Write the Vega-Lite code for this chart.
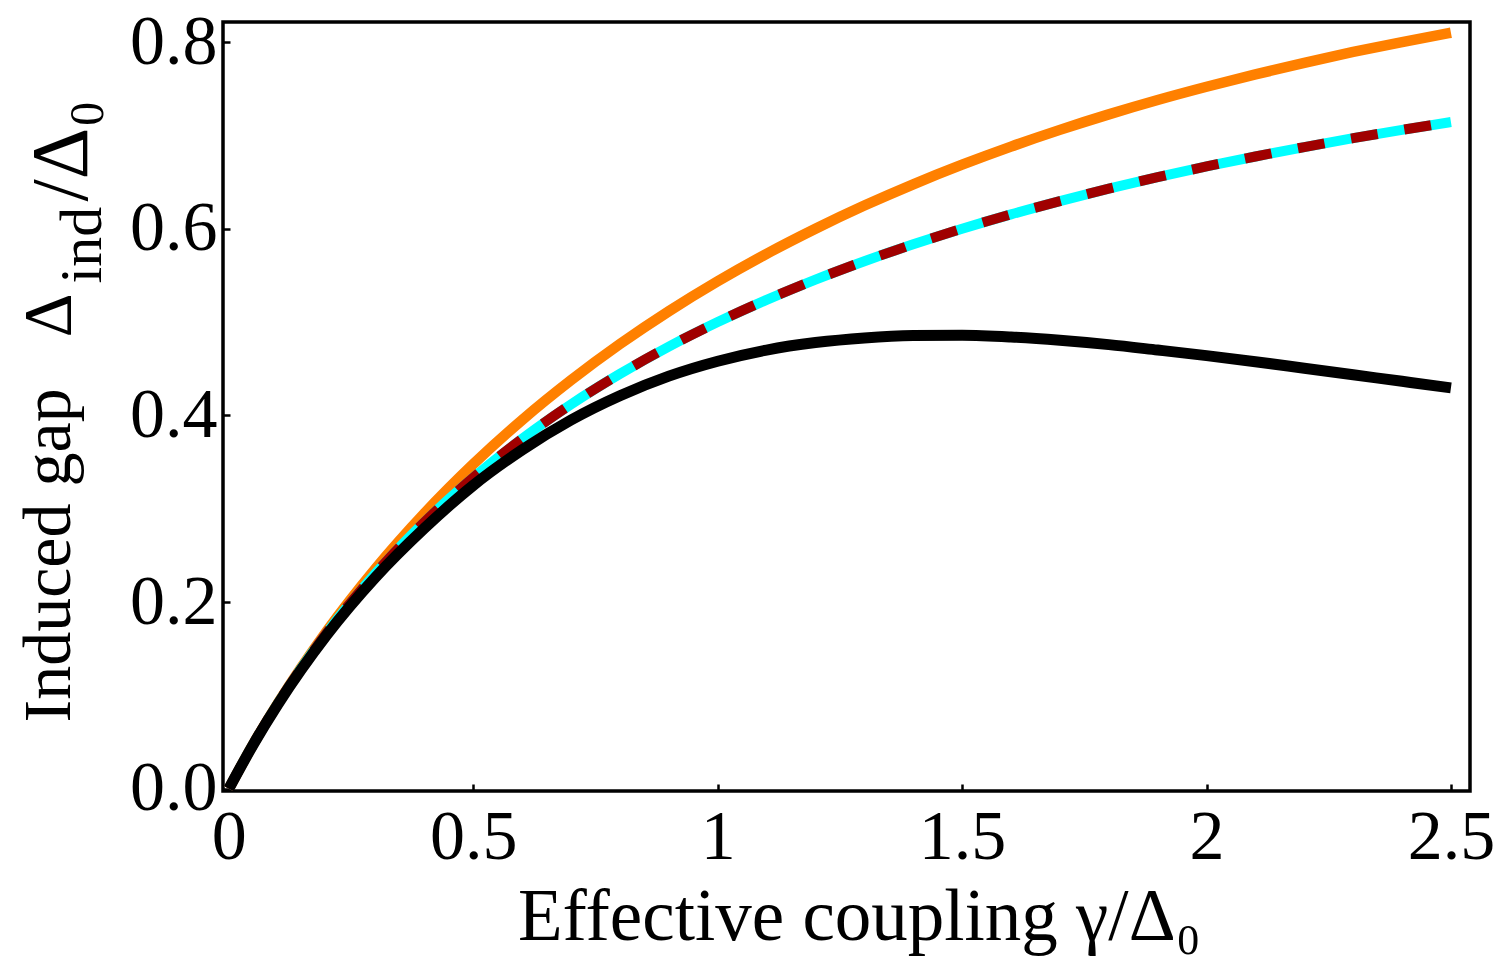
{
  "$schema": "https://vega.github.io/schema/vega-lite/v6.json",
  "width": 1247,
  "height": 769,
  "autosize": "none",
  "padding": {"left": 223, "top": 22, "right": 30, "bottom": 169},
  "background": "white",
  "config": {
    "view": {"stroke": "black", "strokeWidth": 3.5},
    "font": "Liberation Serif",
    "axis": {
      "grid": false,
      "domain": false,
      "labelFont": "Liberation Serif",
      "labelFontSize": 70,
      "labelColor": "black",
      "tickColor": "black",
      "tickWidth": 2.5,
      "tickSize": -7,
      "titleFont": "Liberation Serif, DejaVu Serif, serif",
      "titleFontWeight": "normal",
      "titleColor": "black",
      "titleFontSize": 70
    }
  },
  "datasets": {
    "curves": [
      {"gamma": 0.0, "gap": 0.0, "curve": "self-consistent"},
      {"gamma": 0.05, "gap": 0.0477, "curve": "self-consistent"},
      {"gamma": 0.1, "gap": 0.0913, "curve": "self-consistent"},
      {"gamma": 0.2, "gap": 0.1687, "curve": "self-consistent"},
      {"gamma": 0.3, "gap": 0.2359, "curve": "self-consistent"},
      {"gamma": 0.4, "gap": 0.2951, "curve": "self-consistent"},
      {"gamma": 0.5, "gap": 0.3478, "curve": "self-consistent"},
      {"gamma": 0.6, "gap": 0.3951, "curve": "self-consistent"},
      {"gamma": 0.7, "gap": 0.4377, "curve": "self-consistent"},
      {"gamma": 0.8, "gap": 0.4764, "curve": "self-consistent"},
      {"gamma": 0.9, "gap": 0.5116, "curve": "self-consistent"},
      {"gamma": 1.0, "gap": 0.5437, "curve": "self-consistent"},
      {"gamma": 1.1, "gap": 0.5731, "curve": "self-consistent"},
      {"gamma": 1.2, "gap": 0.6, "curve": "self-consistent"},
      {"gamma": 1.3, "gap": 0.6248, "curve": "self-consistent"},
      {"gamma": 1.4, "gap": 0.6476, "curve": "self-consistent"},
      {"gamma": 1.5, "gap": 0.6686, "curve": "self-consistent"},
      {"gamma": 1.6, "gap": 0.688, "curve": "self-consistent"},
      {"gamma": 1.7, "gap": 0.7059, "curve": "self-consistent"},
      {"gamma": 1.8, "gap": 0.7225, "curve": "self-consistent"},
      {"gamma": 1.9, "gap": 0.7379, "curve": "self-consistent"},
      {"gamma": 2.0, "gap": 0.7521, "curve": "self-consistent"},
      {"gamma": 2.1, "gap": 0.7653, "curve": "self-consistent"},
      {"gamma": 2.2, "gap": 0.7778, "curve": "self-consistent"},
      {"gamma": 2.3, "gap": 0.7894, "curve": "self-consistent"},
      {"gamma": 2.4, "gap": 0.8, "curve": "self-consistent"},
      {"gamma": 2.5, "gap": 0.81, "curve": "self-consistent"},

      {"gamma": 0.0, "gap": 0.0, "curve": "weak-coupling"},
      {"gamma": 0.05, "gap": 0.0476, "curve": "weak-coupling"},
      {"gamma": 0.1, "gap": 0.0909, "curve": "weak-coupling"},
      {"gamma": 0.2, "gap": 0.1667, "curve": "weak-coupling"},
      {"gamma": 0.3, "gap": 0.2308, "curve": "weak-coupling"},
      {"gamma": 0.4, "gap": 0.2857, "curve": "weak-coupling"},
      {"gamma": 0.5, "gap": 0.3333, "curve": "weak-coupling"},
      {"gamma": 0.6, "gap": 0.375, "curve": "weak-coupling"},
      {"gamma": 0.7, "gap": 0.4118, "curve": "weak-coupling"},
      {"gamma": 0.8, "gap": 0.4444, "curve": "weak-coupling"},
      {"gamma": 0.9, "gap": 0.4737, "curve": "weak-coupling"},
      {"gamma": 1.0, "gap": 0.5, "curve": "weak-coupling"},
      {"gamma": 1.1, "gap": 0.5238, "curve": "weak-coupling"},
      {"gamma": 1.2, "gap": 0.5455, "curve": "weak-coupling"},
      {"gamma": 1.3, "gap": 0.5652, "curve": "weak-coupling"},
      {"gamma": 1.4, "gap": 0.5833, "curve": "weak-coupling"},
      {"gamma": 1.5, "gap": 0.6, "curve": "weak-coupling"},
      {"gamma": 1.6, "gap": 0.6154, "curve": "weak-coupling"},
      {"gamma": 1.7, "gap": 0.6296, "curve": "weak-coupling"},
      {"gamma": 1.8, "gap": 0.6429, "curve": "weak-coupling"},
      {"gamma": 1.9, "gap": 0.6552, "curve": "weak-coupling"},
      {"gamma": 2.0, "gap": 0.6667, "curve": "weak-coupling"},
      {"gamma": 2.1, "gap": 0.6774, "curve": "weak-coupling"},
      {"gamma": 2.2, "gap": 0.6875, "curve": "weak-coupling"},
      {"gamma": 2.3, "gap": 0.697, "curve": "weak-coupling"},
      {"gamma": 2.4, "gap": 0.7059, "curve": "weak-coupling"},
      {"gamma": 2.5, "gap": 0.7143, "curve": "weak-coupling"},

      {"gamma": 0.0, "gap": 0.0, "curve": "renormalized"},
      {"gamma": 0.05, "gap": 0.0474, "curve": "renormalized"},
      {"gamma": 0.1, "gap": 0.0902, "curve": "renormalized"},
      {"gamma": 0.2, "gap": 0.1645, "curve": "renormalized"},
      {"gamma": 0.3, "gap": 0.2265, "curve": "renormalized"},
      {"gamma": 0.4, "gap": 0.279, "curve": "renormalized"},
      {"gamma": 0.5, "gap": 0.325, "curve": "renormalized"},
      {"gamma": 0.6, "gap": 0.363, "curve": "renormalized"},
      {"gamma": 0.7, "gap": 0.395, "curve": "renormalized"},
      {"gamma": 0.8, "gap": 0.421, "curve": "renormalized"},
      {"gamma": 0.9, "gap": 0.442, "curve": "renormalized"},
      {"gamma": 1.0, "gap": 0.458, "curve": "renormalized"},
      {"gamma": 1.1, "gap": 0.47, "curve": "renormalized"},
      {"gamma": 1.2, "gap": 0.478, "curve": "renormalized"},
      {"gamma": 1.3, "gap": 0.483, "curve": "renormalized"},
      {"gamma": 1.4, "gap": 0.4855, "curve": "renormalized"},
      {"gamma": 1.5, "gap": 0.4858, "curve": "renormalized"},
      {"gamma": 1.6, "gap": 0.484, "curve": "renormalized"},
      {"gamma": 1.7, "gap": 0.4805, "curve": "renormalized"},
      {"gamma": 1.8, "gap": 0.4758, "curve": "renormalized"},
      {"gamma": 1.9, "gap": 0.47, "curve": "renormalized"},
      {"gamma": 2.0, "gap": 0.464, "curve": "renormalized"},
      {"gamma": 2.1, "gap": 0.4575, "curve": "renormalized"},
      {"gamma": 2.2, "gap": 0.4505, "curve": "renormalized"},
      {"gamma": 2.3, "gap": 0.4435, "curve": "renormalized"},
      {"gamma": 2.4, "gap": 0.4365, "curve": "renormalized"},
      {"gamma": 2.5, "gap": 0.4295, "curve": "renormalized"}
    ]
  },
  "data": {"name": "curves"},
  "resolve": {"axis": {"x": "independent", "y": "independent"}},
  "layer": [
    {
      "transform": [{"filter": "datum.curve === 'self-consistent'"}],
      "mark": {"type": "line", "color": "#FF8000", "strokeWidth": 10.5, "interpolate": "monotone", "clip": true},
      "encoding": {
        "x": {
          "field": "gamma", "type": "quantitative",
          "scale": {"domain": [-0.012, 2.539], "nice": false, "zero": false},
          "axis": {
            "orient": "bottom",
            "values": [0, 0.5, 1, 1.5, 2, 2.5],
            "format": "~g",
            "labelPadding": 19,
            "labelFlush": false,
            "labelOverlap": false,
            "title": "Effective coupling γ/Δ₀",
            "titleFontSize": 73,
            "titleAnchor": "start",
            "titleAlign": "center",
            "titleBaseline": "alphabetic",
            "titleX": 636,
            "titleY": 148
          }
        },
        "y": {
          "field": "gap", "type": "quantitative",
          "scale": {"domain": [-0.0025, 0.8215], "nice": false, "zero": false},
          "axis": {
            "orient": "left",
            "values": [0, 0.2, 0.4, 0.6, 0.8],
            "format": ".1f",
            "labelPadding": 13,
            "labelFlush": false,
            "labelOverlap": false,
            "title": "Induced gap\u00a0\u00a0\u00a0Δ",
            "titleFontSize": 68,
            "titleAngle": 270,
            "titleAlign": "left",
            "titleBaseline": "alphabetic",
            "titleX": -154,
            "titleY": 700
          }
        }
      }
    },
    {
      "transform": [{"filter": "datum.curve === 'weak-coupling'"}],
      "mark": {"type": "line", "color": "#00FFFF", "strokeWidth": 10, "interpolate": "monotone", "clip": true},
      "encoding": {
        "x": {"field": "gamma", "type": "quantitative", "axis": null},
        "y": {"field": "gap", "type": "quantitative", "axis": null}
      }
    },
    {
      "transform": [{"filter": "datum.curve === 'weak-coupling'"}],
      "mark": {"type": "line", "color": "#A00000", "strokeWidth": 10, "strokeDash": [27, 27], "strokeCap": "butt", "interpolate": "monotone", "clip": true},
      "encoding": {
        "x": {"field": "gamma", "type": "quantitative", "axis": null},
        "y": {"field": "gap", "type": "quantitative", "axis": null}
      }
    },
    {
      "transform": [{"filter": "datum.curve === 'renormalized'"}],
      "mark": {"type": "line", "color": "black", "strokeWidth": 11, "interpolate": "monotone", "clip": true},
      "encoding": {
        "x": {
          "field": "gamma", "type": "quantitative",
          "axis": {
            "orient": "top",
            "ticks": false,
            "labels": false,
            "title": "/Δ₀",
            "titleFontSize": 80,
            "titleAngle": 270,
            "titleAlign": "left",
            "titleBaseline": "alphabetic",
            "titleX": -137,
            "titleY": 179
          }
        },
        "y": {
          "field": "gap", "type": "quantitative",
          "axis": {
            "orient": "right",
            "ticks": false,
            "labels": false,
            "title": "ind",
            "titleFontSize": 60,
            "titleAngle": 270,
            "titleAlign": "left",
            "titleBaseline": "alphabetic",
            "titleX": -1370,
            "titleY": 261
          }
        }
      }
    }
  ]
}
